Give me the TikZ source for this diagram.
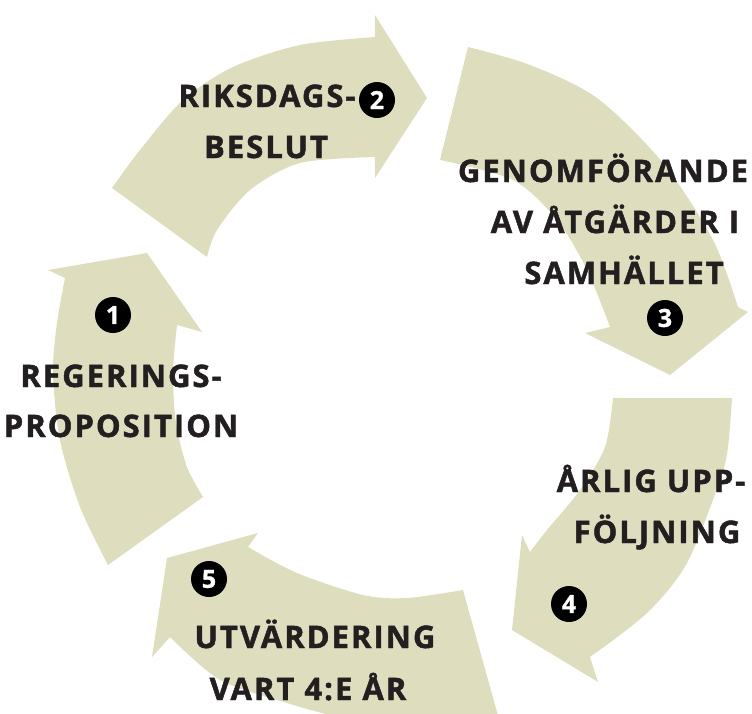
\documentclass[tikz,border=0pt]{standalone}
\usepackage{fontspec}
\newfontfamily\labfont{Open Sans}[LetterSpace=6.5,FakeBold=1.5]
\newfontfamily\numfont{Open Sans}[FakeBold=1]
\definecolor{ringfill}{RGB}{222,222,191}
\definecolor{inkdark}{RGB}{35,31,32}
\begin{document}
\begin{tikzpicture}[x=1pt,y=-1pt,
  arrowshape/.style={fill=ringfill, draw=none},
  lbl/.style={font=\labfont\bfseries\fontsize{31}{31}\selectfont, text=inkdark, inner sep=0pt, anchor=base},
  numc/.style={circle, fill=black, text=white, inner sep=0pt, minimum size=36pt, font=\numfont\bfseries\fontsize{25}{25}\selectfont}]
\useasboundingbox (0,0) rectangle (752,713);
\clip (0,0) rectangle (752,713);

% Arrow 1 (upwards, left)
\fill[arrowshape] plot[smooth] coordinates {(108,565) (80,507) (60,440) (53,373) (57,323) (65,278)}
  -- (48,270) -- (147,253) -- (202,332) -- (177,325)
  -- plot[smooth] coordinates {(177,325) (173,373) (176,423) (187,467) (203,497)} -- cycle;

% Arrow 2 (top, to the right)
\fill[arrowshape] plot[smooth] coordinates {(112,188) (140,150) (183,100) (233,67) (300,45) (375,37)}
  -- (375,15) -- (427,98) -- (375,178) -- (375,157)
  -- plot[smooth] coordinates {(375,157) (300,163) (250,190) (217,230) (207,257)} -- cycle;

% Arrow 3 (upper right, downwards)
\fill[arrowshape] plot[smooth] coordinates {(468,47) (530,65) (597,98) (663,163) (713,240) (738,307)}
  -- (748,312) -- (670,375) -- (585,333) -- (610,327)
  -- plot[smooth] coordinates {(610,327) (587,270) (557,220) (513,180) (440,160)} -- cycle;

% Arrow 4 (lower right, down-left)
\fill[arrowshape] plot[smooth] coordinates {(732,398) (728,447) (720,480) (687,563) (647,613) (590,657)}
  -- (598,682) -- (512,630) -- (522,535) -- (530,552)
  -- plot[smooth] coordinates {(530,552) (547,530) (580,490) (605,447) (613,398)} -- cycle;

% Arrow 5 (bottom, to the upper left)
\fill[arrowshape] plot[smooth] coordinates {(463,590) (407,598) (363,595) (297,573) (248,547)}
  -- (258,533) -- (167,558) -- (152,657) -- (170,637)
  -- plot[smooth] coordinates {(170,637) (220,680) (287,703) (330,715) (380,725)}
  -- (502,730) -- cycle;

% Numbers
\node[numc] (n1) at (113,315) {1};
\node[numc] (n2) at (377,100) {2};
\node[numc] (n3) at (665,318) {3};
\node[numc] (n4) at (569,604) {4};
\node[numc] (n5) at (209,579) {5};

% Labels
\node[lbl] (t1a) at (121,387) {REGERINGS-};
\node[lbl] (t1b) at (121,437) {PROPOSITION};
\node[lbl] (t2a) at (267,107) {RIKSDAGS-};
\node[lbl] (t2b) at (266,158) {BESLUT};
\node[lbl] (t3a) at (603,182) {GENOMFÖRANDE};
\node[lbl] (t3b) at (615,233) {AV ÅTGÄRDER I};
\node[lbl] (t3c) at (624,284) {SAMHÄLLET};
\node[lbl] (t4a) at (651,492) {ÅRLIG UPP-};
\node[lbl] (t4b) at (657,543) {FÖLJNING};
\node[lbl] (t5a) at (315,648) {UTVÄRDERING};
\node[lbl] (t5b) at (308,700) {VART 4:E ÅR};
\end{tikzpicture}
\end{document}
